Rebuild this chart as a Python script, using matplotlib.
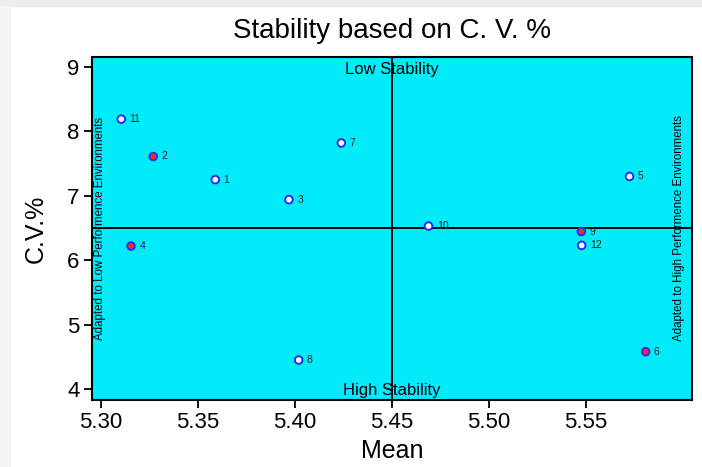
import matplotlib
matplotlib.use("Agg")
import matplotlib.pyplot as plt
from matplotlib.patches import Rectangle

plt.rcParams['font.family'] = ['Liberation Sans', 'DejaVu Sans']

# genotype data: mean yield vs coefficient of variation
genotypes = ['1', '2', '3', '4', '5', '6', '7', '8', '9', '10', '11', '12']
mean_vals = [5.359, 5.327, 5.397, 5.3155, 5.5727, 5.581, 5.424, 5.402, 5.5478, 5.469, 5.3105, 5.548]
cv_vals = [7.25, 7.61, 6.94, 6.22, 7.30, 4.58, 7.82, 4.45, 6.445, 6.53, 8.19, 6.23]
highlight = ['2', '4', '6', '9']   # red filled points

mean_ref = 5.45
cv_ref = 6.50

xticks = [5.30, 5.35, 5.40, 5.45, 5.50, 5.55]
yticks = [4, 5, 6, 7, 8, 9]

fig = plt.figure(figsize=(7.02, 4.67), dpi=100)
# faint screenshot edge
fig.patches.append(Rectangle((0, 0.987), 1, 0.013, transform=fig.transFigure,
                             color='#ededed', zorder=0))
fig.patches.append(Rectangle((0, 0), 0.014, 0.987, transform=fig.transFigure,
                             color='#f5f5f5', zorder=0))

ax = fig.add_axes([0.131, 0.1435, 0.855, 0.7345])
ax.set_facecolor('#00ECFA')

faces = ['#FF2A11' if g in highlight else 'white' for g in genotypes]
ax.scatter(mean_vals, cv_vals, s=30, c=faces, edgecolors='#2A2AFF',
           linewidths=1.4, zorder=3)
for g, x, y in zip(genotypes, mean_vals, cv_vals):
    ax.annotate(g, (x, y), xytext=(6, 0), textcoords='offset points',
                fontsize=7.5, color='#222222', va='center', zorder=4)

ax.axvline(mean_ref, color='black', lw=1.4, zorder=2)
ax.axhline(cv_ref, color='black', lw=1.4, zorder=2)

ax.set_xlim(5.2954, 5.605)
ax.set_ylim(3.83, 9.155)
ax.set_xticks(xticks)
ax.set_xticklabels(['%.2f' % v for v in xticks])
ax.set_yticks(yticks)
ax.tick_params(direction='out', length=6, width=1.3, labelsize=16, pad=3)

for s in ax.spines.values():
    s.set_linewidth(1.5)

ax.text(mean_ref, 9.07, 'Low Stability', ha='center', va='top', fontsize=12)
ax.text(mean_ref, 3.86, 'High Stability', ha='center', va='bottom', fontsize=12)
ax.text(0.014, 0.5, 'Adapted to Low Performence Environments', transform=ax.transAxes,
        rotation=90, ha='center', va='center', fontsize=8.3)
ax.text(0.978, 0.5, 'Adapted to High Performence Environments', transform=ax.transAxes,
        rotation=90, ha='center', va='center', fontsize=8.3)

ax.set_xlabel('Mean', fontsize=18, labelpad=4)
ax.set_ylabel('C.V.%', fontsize=18, labelpad=14)
ax.set_title('Stability based on C. V. %', fontsize=20, pad=14)

fig.savefig('out.png', dpi=100)
